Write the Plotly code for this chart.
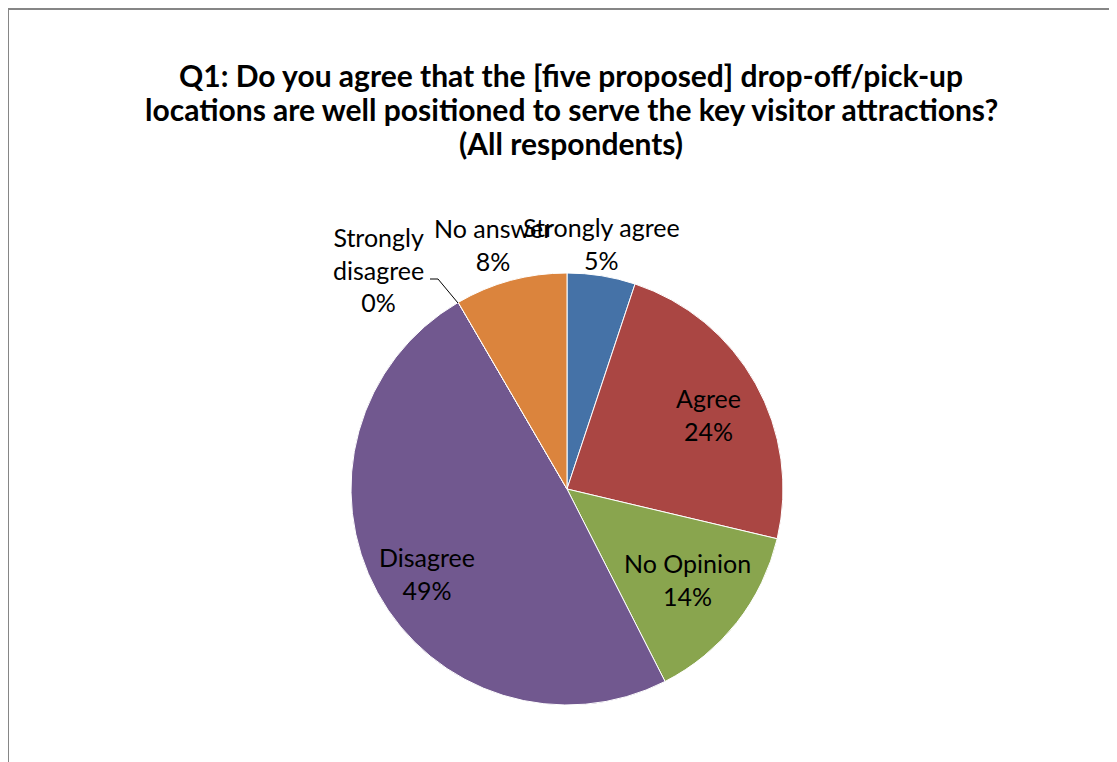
import plotly.graph_objects as go

categories = ["Strongly agree", "Agree", "No Opinion", "Disagree", "Strongly disagree", "No answer"]
values = [5.1, 23.6, 13.8, 49.1, 0.0, 8.4]
colors = ["#4572A7", "#AA4643", "#89A54E", "#71588F", "#4198AF", "#DB843D"]
title_lines = [
    "Q1: Do you agree that the [five proposed] drop-off/pick-up",
    "locations are well positioned to serve the key visitor attractions?",
    "(All respondents)",
]

OFF = 8  # page body margin
W, H = 1117 - OFF, 762 - OFF
FONT = "Lato"


def px(x, y):
    return (x - OFF) / W, 1 - (y - OFF) / H


x0, y1 = px(351, 273)
x1, y0 = px(783, 705)

fig = go.Figure(go.Pie(
    labels=categories, values=values, sort=False, direction="clockwise", rotation=0,
    marker=dict(colors=colors, line=dict(color="#ffffff", width=1)),
    textinfo="none", hoverinfo="label+percent", showlegend=False,
    domain=dict(x=[x0, x1], y=[y0, y1]),
))

total = sum(values)
pct = {c: f"{round(v / total * 100):.0f}%" for c, v in zip(categories, values)}

label_pos = {
    "Strongly agree": (601, 243, ["Strongly agree"]),
    "No answer": (493, 244, ["No answer"]),
    "Strongly disagree": (378, 270, ["Strongly", "disagree"]),
    "Agree": (708, 414, ["Agree"]),
    "No Opinion": (687, 579, ["No Opinion"]),
    "Disagree": (427, 573, ["Disagree"]),
}

annotations = []
for c in categories:
    x, y, lines = label_pos[c]
    ax, ay = px(x, y)
    annotations.append(dict(
        x=ax, y=ay, xref="paper", yref="paper", text="<br>".join(lines + [pct[c]]), showarrow=False,
        font=dict(family=FONT, size=25, color="#000000"), xanchor="center", yanchor="middle",
        align="center",
    ))

for t, yy in zip(title_lines, [75, 109, 143]):
    ax, ay = px(571, yy)
    annotations.append(dict(
        x=ax, y=ay, xref="paper", yref="paper", text=f"<b>{t}</b>",
        showarrow=False, font=dict(family=FONT, size=30, color="#000000"),
        xanchor="center", yanchor="middle",
    ))

bx0, by1 = px(8, 9)
lx0, ly0 = px(430, 279)
lx1, _ = px(438, 279)
lx2, ly2 = px(458, 303)
shapes = [
    dict(type="rect", xref="paper", yref="paper", x0=bx0, x1=1.05, y0=-0.05, y1=by1,
         line=dict(color="#868686", width=2), fillcolor="rgba(0,0,0,0)"),
    dict(type="path", xref="paper", yref="paper",
         path=f"M {lx0} {ly0} L {lx1} {ly0} L {lx2} {ly2}",
         line=dict(color="#000000", width=1)),
]

fig.update_layout(
    width=W, height=H, margin=dict(l=0, r=0, t=0, b=0),
    paper_bgcolor="#ffffff", plot_bgcolor="#ffffff",
    annotations=annotations, shapes=shapes,
)

fig.write_html("out.html")
